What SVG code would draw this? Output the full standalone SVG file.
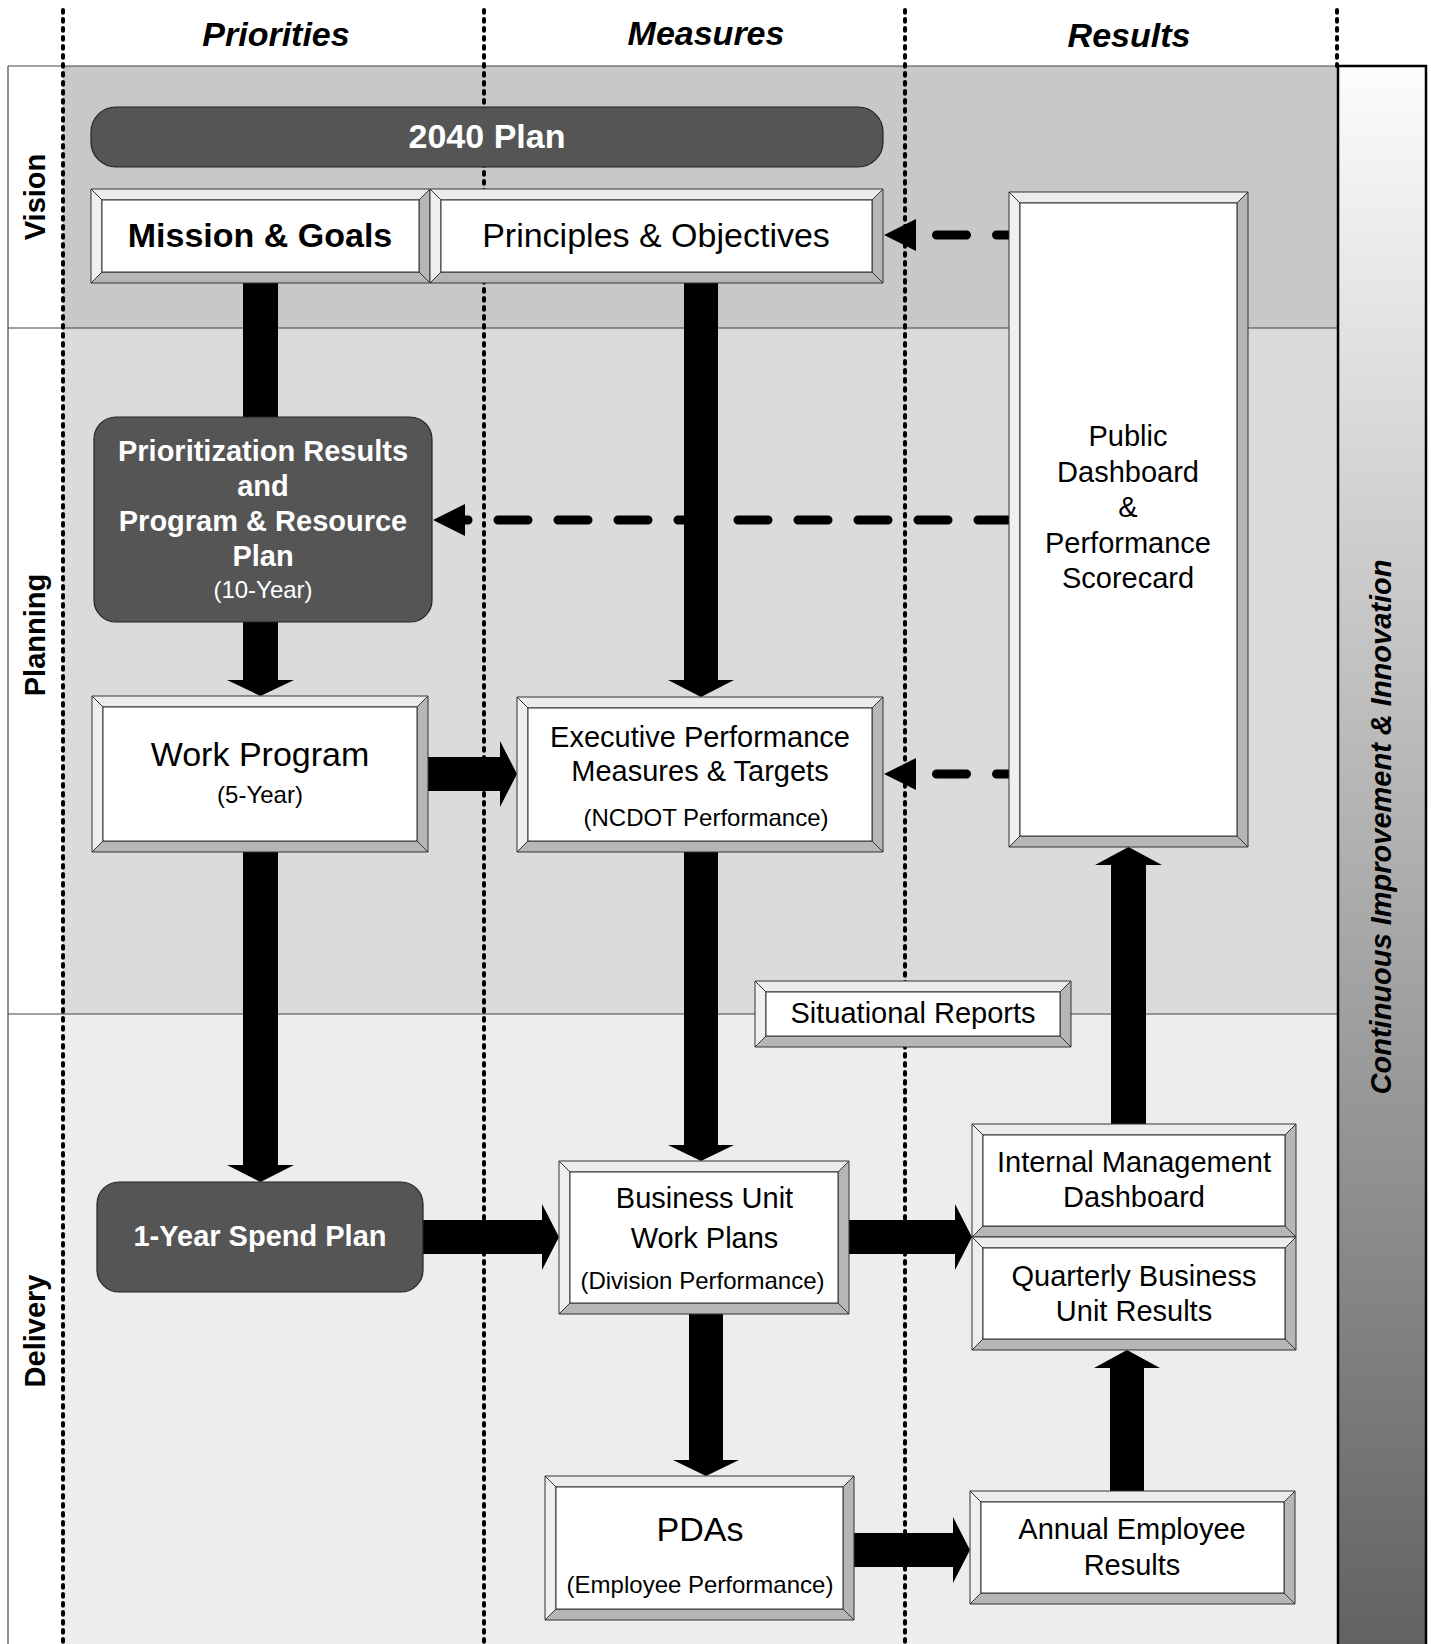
<svg xmlns="http://www.w3.org/2000/svg" width="1431" height="1644" viewBox="0 0 1431 1644">
<defs>
<linearGradient id="barGrad" x1="0" y1="0" x2="0" y2="1">
<stop offset="0" stop-color="#fcfcfc"/>
<stop offset="1" stop-color="#626262"/>
</linearGradient>
<style>
text{font-family:"Liberation Sans",Arial,sans-serif;fill:#000}
.hdr{font-size:34px;font-weight:bold;font-style:italic;text-anchor:middle}
.side{font-size:29px;font-weight:bold;text-anchor:middle}
.big{font-size:34px;text-anchor:middle}
.bigb{font-size:34px;font-weight:bold;text-anchor:middle}
.mid{font-size:29px;text-anchor:middle}
.midw{font-size:29px;font-weight:bold;text-anchor:middle;fill:#fff}
.sm{font-size:24px;text-anchor:middle}
.smw{font-size:24px;text-anchor:middle;fill:#fff}
.dot{stroke:#000;stroke-width:4;stroke-linecap:round;stroke-dasharray:2.7 6.3;fill:none}
.band{stroke:none}
.bl{stroke:#444;stroke-width:1.2;fill:none}
.dark{fill:#555;stroke:#222;stroke-width:1.2}
.bt{fill:#ececec;stroke:#333;stroke-width:1}
.blf{fill:#efefef;stroke:#333;stroke-width:1}
.br{fill:#b6b6b6;stroke:#333;stroke-width:1}
.in{fill:#fff;stroke:#333;stroke-width:1}
.arr{fill:#000;stroke:none}
.dash{stroke:#000;stroke-width:9;stroke-linecap:round;stroke-dasharray:30 30;fill:none}
</style>
</defs>
<rect x="0" y="0" width="1431" height="1644" fill="#fff"/>
<!-- bands -->
<g id="bands">
<rect class="band" x="8" y="66" width="55" height="1578" fill="#fff"/>
<rect class="band" x="63" y="66" width="1276" height="262" fill="#c8c8c8"/>
<rect class="band" x="63" y="328" width="1276" height="686" fill="#dbdbdb"/>
<rect class="band" x="63" y="1014" width="1276" height="630" fill="#ededed"/>
<line class="bl" x1="8" y1="66" x2="1339" y2="66"/>
<line class="bl" x1="8" y1="328" x2="1339" y2="328"/>
<line class="bl" x1="8" y1="1014" x2="1339" y2="1014"/>
<line class="bl" x1="8" y1="66" x2="8" y2="1644"/>
</g>
<!-- headers -->
<g id="headers">
<text class="hdr" x="276" y="46">Priorities</text>
<text class="hdr" x="706" y="45">Measures</text>
<text class="hdr" x="1129" y="47">Results</text>
</g>
<g id="rowlabels">
<text class="side" transform="translate(45,197) rotate(-90)">Vision</text>
<text class="side" transform="translate(45,635) rotate(-90)">Planning</text>
<text class="side" transform="translate(45,1331) rotate(-90)">Delivery</text>
</g>
<!-- dotted column lines -->
<g id="columns">
<line class="dot" x1="63" y1="10" x2="63" y2="1644"/>
<line class="dot" x1="484" y1="10" x2="484" y2="1644"/>
<line class="dot" x1="905" y1="10" x2="905" y2="1644"/>
<line class="dot" x1="1337" y1="10" x2="1337" y2="66"/>
</g>
<!-- connectors -->
<g id="connectors">
<polygon class="arr" points="243,283 278,283 278,680 294,680 260.5,696 227,680 243,680"/>
<polygon class="arr" points="243,852 278,852 278,1165 294,1165 260.5,1182 227,1165 243,1165"/>
<polygon class="arr" points="684,283 718,283 718,680 734,680 701,697 668,680 684,680"/>
<polygon class="arr" points="684,852 718,852 718,1145 734,1145 701,1161 668,1145 684,1145"/>
<polygon class="arr" points="689,1314 723,1314 723,1460 739,1460 706,1476 673,1460 689,1460"/>
<polygon class="arr" points="428,757 500,757 500,741 517,774 500,807 500,791 428,791"/>
<polygon class="arr" points="423,1220 542,1220 542,1204 559,1237 542,1270 542,1254 423,1254"/>
<polygon class="arr" points="849,1220 955,1220 955,1204 972,1237 955,1270 955,1254 849,1254"/>
<polygon class="arr" points="854,1533 953,1533 953,1517 970,1550 953,1583 953,1567 854,1567"/>
<polygon class="arr" points="1110,1491 1144,1491 1144,1368 1160,1368 1127,1350 1094,1368 1110,1368"/>
<polygon class="arr" points="1111,1124 1146,1124 1146,865 1162,865 1128.5,847 1095,865 1111,865"/>
<path class="dash" d="M1026.5,235 H912"/>
<polygon class="arr" points="916,219 916,251 884,235"/>
<path class="dash" d="M1008,520 H448"/>
<polygon class="arr" points="465,504 465,536 433,520"/>
<path class="dash" d="M1026.5,774 H912"/>
<polygon class="arr" points="916,758 916,790 884,774"/>
</g>
<!-- nodes -->
<g id="plan2040">
<rect class="dark" x="91" y="107" width="792" height="60" rx="25"/>
<text class="bigb" x="487" y="148" style="fill:#fff">2040 Plan</text>
</g>
<g id="mission">
<polygon class="bt" points="91,189 430,189 419,200 102,200"/>
<polygon class="br" points="91,283 430,283 419,272 102,272"/>
<polygon class="blf" points="91,189 102,200 102,272 91,283"/>
<polygon class="br" points="430,189 419,200 419,272 430,283"/>
<rect class="in" x="102" y="200" width="317" height="72"/>
<text class="bigb" x="260" y="247">Mission &amp; Goals</text>
</g>
<g id="principles">
<polygon class="bt" points="430,189 883,189 872,200 441,200"/>
<polygon class="br" points="430,283 883,283 872,272 441,272"/>
<polygon class="blf" points="430,189 441,200 441,272 430,283"/>
<polygon class="br" points="883,189 872,200 872,272 883,283"/>
<rect class="in" x="441" y="200" width="431" height="72"/>
<text class="big" x="656" y="247">Principles &amp; Objectives</text>
</g>
<g id="public">
<polygon class="bt" points="1009,192 1248,192 1237,203 1020,203"/>
<polygon class="br" points="1009,847 1248,847 1237,836 1020,836"/>
<polygon class="blf" points="1009,192 1020,203 1020,836 1009,847"/>
<polygon class="br" points="1248,192 1237,203 1237,836 1248,847"/>
<rect class="in" x="1020" y="203" width="217" height="633"/>
<text class="mid" x="1128" y="446">Public</text>
<text class="mid" x="1128" y="481.5">Dashboard</text>
<text class="mid" x="1128" y="517">&amp;</text>
<text class="mid" x="1128" y="552.5">Performance</text>
<text class="mid" x="1128" y="588">Scorecard</text>
</g>
<g id="prioritization">
<rect class="dark" x="94" y="417" width="338" height="205" rx="22"/>
<text class="midw" x="263" y="461">Prioritization Results</text>
<text class="midw" x="263" y="496">and</text>
<text class="midw" x="263" y="531">Program &amp; Resource</text>
<text class="midw" x="263" y="566">Plan</text>
<text class="smw" x="263" y="598">(10-Year)</text>
</g>
<g id="workprogram">
<polygon class="bt" points="92,696 428,696 417,707 103,707"/>
<polygon class="br" points="92,852 428,852 417,841 103,841"/>
<polygon class="blf" points="92,696 103,707 103,841 92,852"/>
<polygon class="br" points="428,696 417,707 417,841 428,852"/>
<rect class="in" x="103" y="707" width="314" height="134"/>
<text class="big" x="260" y="766">Work Program</text>
<text class="sm" x="260" y="803">(5-Year)</text>
</g>
<g id="executive">
<polygon class="bt" points="517,697 883,697 872,708 528,708"/>
<polygon class="br" points="517,852 883,852 872,841 528,841"/>
<polygon class="blf" points="517,697 528,708 528,841 517,852"/>
<polygon class="br" points="883,697 872,708 872,841 883,852"/>
<rect class="in" x="528" y="708" width="344" height="133"/>
<text class="mid" x="700" y="747">Executive Performance</text>
<text class="mid" x="700" y="781">Measures &amp; Targets</text>
<text class="sm" x="706" y="826">(NCDOT Performance)</text>
</g>
<g id="situational">
<polygon class="bt" points="755,981 1071,981 1060,992 766,992"/>
<polygon class="br" points="755,1047 1071,1047 1060,1036 766,1036"/>
<polygon class="blf" points="755,981 766,992 766,1036 755,1047"/>
<polygon class="br" points="1071,981 1060,992 1060,1036 1071,1047"/>
<rect class="in" x="766" y="992" width="294" height="44"/>
<text class="mid" x="913" y="1023">Situational Reports</text>
</g>
<g id="spendplan">
<rect class="dark" x="97" y="1182" width="326" height="110" rx="22"/>
<text class="midw" x="260" y="1246">1-Year Spend Plan</text>
</g>
<g id="business">
<polygon class="bt" points="559,1161 849,1161 838,1172 570,1172"/>
<polygon class="br" points="559,1314 849,1314 838,1303 570,1303"/>
<polygon class="blf" points="559,1161 570,1172 570,1303 559,1314"/>
<polygon class="br" points="849,1161 838,1172 838,1303 849,1314"/>
<rect class="in" x="570" y="1172" width="268" height="131"/>
<text class="mid" x="704.5" y="1208">Business Unit</text>
<text class="mid" x="704.5" y="1248">Work Plans</text>
<text class="sm" x="702.5" y="1289">(Division Performance)</text>
</g>
<g id="internal">
<polygon class="bt" points="972,1124 1296,1124 1285,1135 983,1135"/>
<polygon class="br" points="972,1237 1296,1237 1285,1226 983,1226"/>
<polygon class="blf" points="972,1124 983,1135 983,1226 972,1237"/>
<polygon class="br" points="1296,1124 1285,1135 1285,1226 1296,1237"/>
<rect class="in" x="983" y="1135" width="302" height="91"/>
<text class="mid" x="1134" y="1172">Internal Management</text>
<text class="mid" x="1134" y="1207">Dashboard</text>
</g>
<g id="quarterly">
<polygon class="bt" points="972,1237 1296,1237 1285,1248 983,1248"/>
<polygon class="br" points="972,1350 1296,1350 1285,1339 983,1339"/>
<polygon class="blf" points="972,1237 983,1248 983,1339 972,1350"/>
<polygon class="br" points="1296,1237 1285,1248 1285,1339 1296,1350"/>
<rect class="in" x="983" y="1248" width="302" height="91"/>
<text class="mid" x="1134" y="1286">Quarterly Business</text>
<text class="mid" x="1134" y="1321">Unit Results</text>
</g>
<g id="pdas">
<polygon class="bt" points="545,1476 854,1476 843,1487 556,1487"/>
<polygon class="br" points="545,1620 854,1620 843,1609 556,1609"/>
<polygon class="blf" points="545,1476 556,1487 556,1609 545,1620"/>
<polygon class="br" points="854,1476 843,1487 843,1609 854,1620"/>
<rect class="in" x="556" y="1487" width="287" height="122"/>
<text class="big" x="700" y="1541">PDAs</text>
<text class="sm" x="700" y="1593">(Employee Performance)</text>
</g>
<g id="annual">
<polygon class="bt" points="970,1491 1295,1491 1284,1502 981,1502"/>
<polygon class="br" points="970,1604 1295,1604 1284,1593 981,1593"/>
<polygon class="blf" points="970,1491 981,1502 981,1593 970,1604"/>
<polygon class="br" points="1295,1491 1284,1502 1284,1593 1295,1604"/>
<rect class="in" x="981" y="1502" width="303" height="91"/>
<text class="mid" x="1132" y="1539">Annual Employee</text>
<text class="mid" x="1132" y="1575">Results</text>
</g>
<g id="improvement">
<rect x="1338" y="66" width="88" height="1580" fill="url(#barGrad)" stroke="#000" stroke-width="2.5"/>
<text class="side" style="font-style:italic" transform="translate(1391,827) rotate(-90)">Continuous Improvement &amp; Innovation</text>
</g>
</svg>
